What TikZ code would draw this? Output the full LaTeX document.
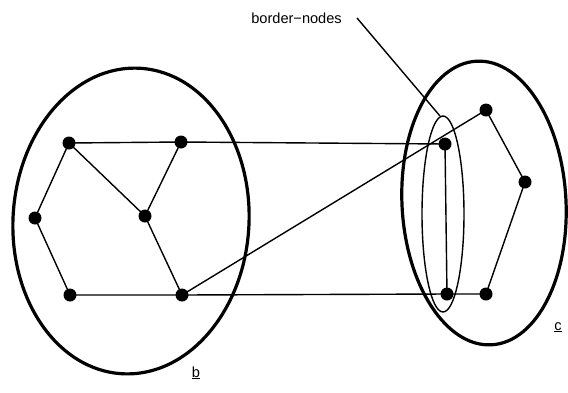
\documentclass[tikz,border=0pt]{standalone}
\usepackage{fontspec}
\setmainfont{Liberation Sans}
\begin{document}
\begin{tikzpicture}[x=1pt,y=-1pt,
  dot/.style={circle,fill=black,inner sep=0pt,minimum size=13pt},
  edge/.style={line width=1.4pt},
  region/.style={line width=3.2pt},
  thinring/.style={line width=1.4pt},
  lbl/.style={font=\fontsize{14.6}{16}\selectfont,inner sep=0pt}]
\useasboundingbox (0,0) rectangle (568,392);
% regions
\draw[region] (131,221) circle[x radius=118, y radius=153, rotate=-3.4];
\draw[region] (484,203) circle[x radius=82, y radius=142, rotate=3];
\draw[thinring] (443,214) circle[x radius=21, y radius=98];
% nodes
\node[dot] (a) at (69,143) {};
\node[dot] (b) at (181,142) {};
\node[dot] (c) at (35,218) {};
\node[dot] (d) at (145,216) {};
\node[dot] (e) at (70,295) {};
\node[dot] (f) at (182,295) {};
\node[dot] (g) at (445,144) {};
\node[dot] (h) at (486,110) {};
\node[dot] (i) at (525,182) {};
\node[dot] (j) at (447,294) {};
\node[dot] (k) at (486,294) {};
% edges
\draw[edge] (a.center) -- (b.center) -- (g.center);
\draw[edge] (a.center) -- (c.center) -- (e.center) -- (f.center) -- (j.center) -- (k.center);
\draw[edge] (a.center) -- (d.center) -- (f.center);
\draw[edge] (b.center) -- (d.center);
\draw[edge] (f.center) -- (h.center) -- (i.center) -- (k.center);
\draw[edge] (g.center) -- (j.center);
% labels
\node[lbl,anchor=base east] (bn) at (342,23) {border\textminus nodes};
\coordinate (bnfrom) at (357,18);
\coordinate (bnto) at (440,116);
\draw[edge] (bnfrom) -- (bnto);
\node[lbl,anchor=base] (lb) at (196,377) {\underline{b}};
\node[lbl,anchor=base] (lc) at (558,330) {\underline{c}};
\end{tikzpicture}
\end{document}
